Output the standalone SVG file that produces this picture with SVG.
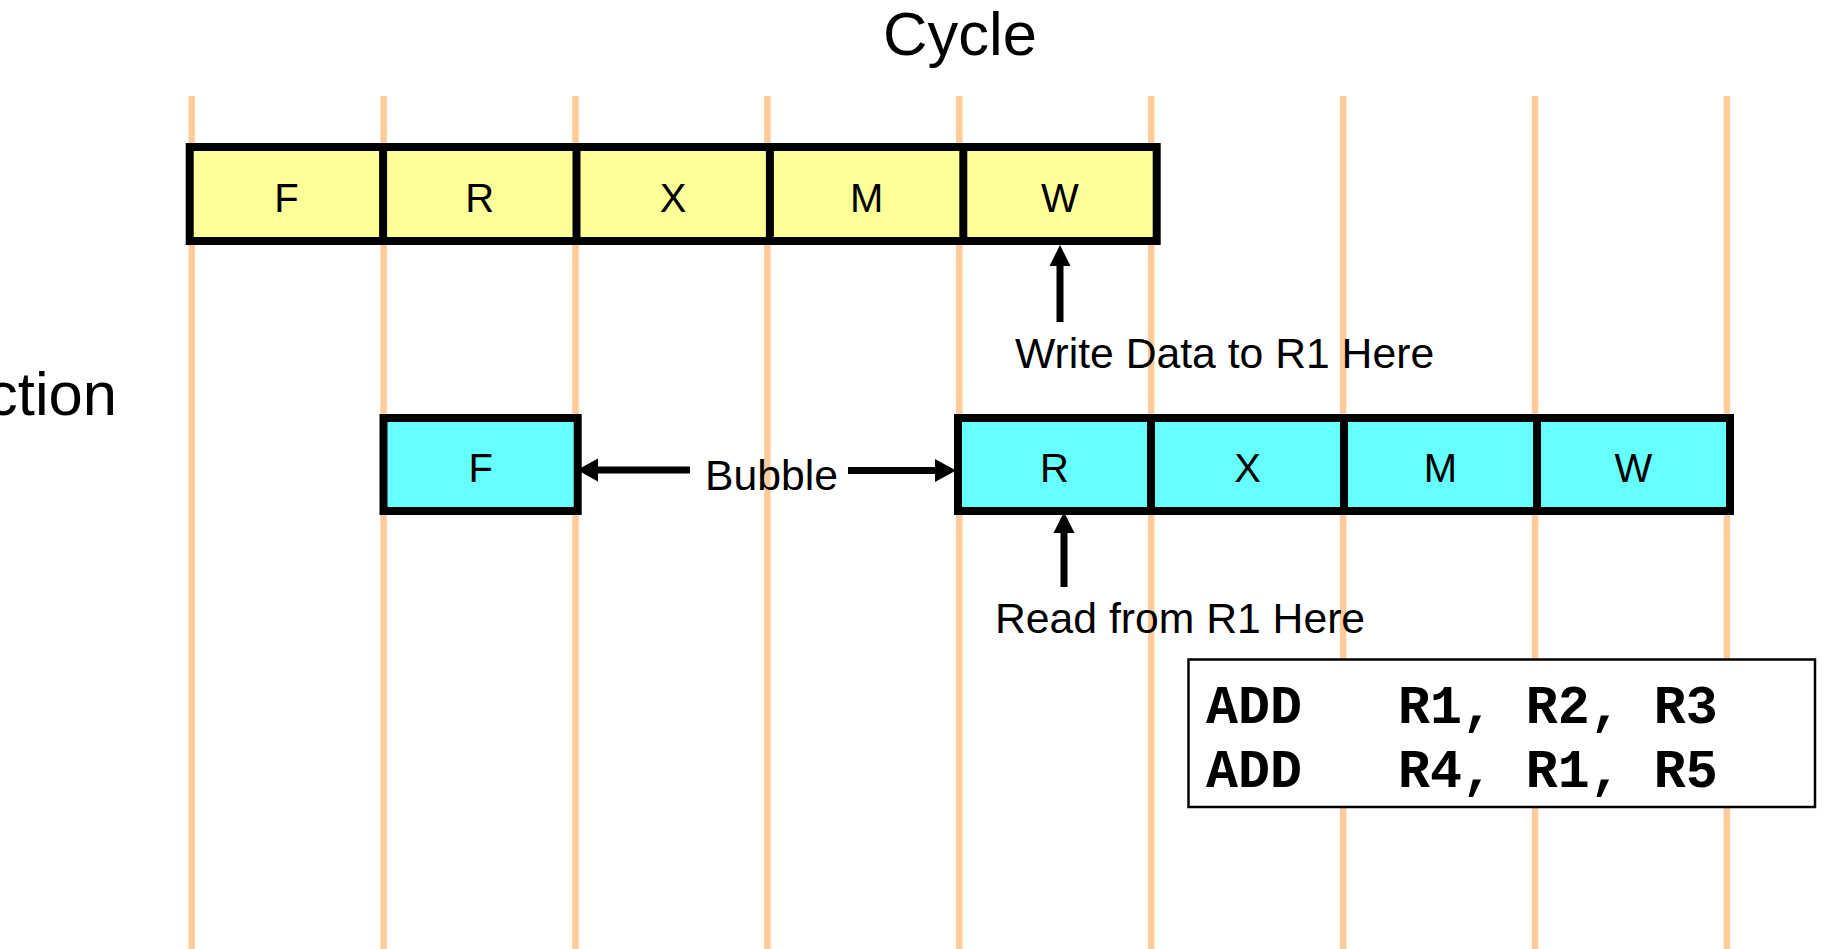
<svg xmlns="http://www.w3.org/2000/svg" width="1822" height="949" viewBox="0 0 1822 949">
<style>
.grid{stroke:#FFCC99;stroke-width:6.5}
.y{fill:#FFFF99;stroke:#000;stroke-width:8}
.c{fill:#66FFFF;stroke:#000;stroke-width:8}
.div{stroke:#000;stroke-width:8}
.lbl{font-family:"Liberation Sans",Arial,sans-serif;font-size:40px;fill:#000;text-anchor:middle}
.t{font-family:"Liberation Sans",Arial,sans-serif;font-size:42.7px;fill:#000}
.big{font-family:"Liberation Sans",Arial,sans-serif;font-size:61.5px;fill:#000}
.code{font-family:"Liberation Mono","Courier New",monospace;font-size:53.3px;font-weight:bold;fill:#000;white-space:pre}
.conn{stroke:#000;stroke-width:7;fill:none}
</style>
<rect width="1822" height="949" fill="#fff"/>
<g id="grid">
<line class="grid" x1="191.7" y1="96" x2="191.7" y2="949"/>
<line class="grid" x1="383.6" y1="96" x2="383.6" y2="949"/>
<line class="grid" x1="575.5" y1="96" x2="575.5" y2="949"/>
<line class="grid" x1="767.4" y1="96" x2="767.4" y2="949"/>
<line class="grid" x1="959.3" y1="96" x2="959.3" y2="949"/>
<line class="grid" x1="1151.2" y1="96" x2="1151.2" y2="949"/>
<line class="grid" x1="1343.1" y1="96" x2="1343.1" y2="949"/>
<line class="grid" x1="1535" y1="96" x2="1535" y2="949"/>
<line class="grid" x1="1726.9" y1="96" x2="1726.9" y2="949"/>
</g>
<text class="big" x="960" y="55" text-anchor="middle">Cycle</text>
<text class="big" x="117" y="415" text-anchor="end">ction</text>
<g id="instr1">
<rect class="y" x="189.7" y="147" width="967" height="94"/>
<line class="div" x1="383.1" y1="147" x2="383.1" y2="241"/>
<line class="div" x1="576.5" y1="147" x2="576.5" y2="241"/>
<line class="div" x1="769.9" y1="147" x2="769.9" y2="241"/>
<line class="div" x1="963.3" y1="147" x2="963.3" y2="241"/>
<text class="lbl" x="286.4" y="211.5">F</text>
<text class="lbl" x="479.8" y="211.5">R</text>
<text class="lbl" x="673.2" y="211.5">X</text>
<text class="lbl" x="866.6" y="211.5">M</text>
<text class="lbl" x="1060" y="211.5">W</text>
</g>
<g id="instr2-f">
<rect class="c" x="383.5" y="418" width="194.2" height="93"/>
<text class="lbl" x="480.6" y="481.5">F</text>
</g>
<g id="instr2">
<rect class="c" x="958" y="418" width="772" height="93"/>
<line class="div" x1="1151" y1="418" x2="1151" y2="511"/>
<line class="div" x1="1344" y1="418" x2="1344" y2="511"/>
<line class="div" x1="1537" y1="418" x2="1537" y2="511"/>
<text class="lbl" x="1054.5" y="481.5">R</text>
<text class="lbl" x="1247.5" y="481.5">X</text>
<text class="lbl" x="1440.5" y="481.5">M</text>
<text class="lbl" x="1633.5" y="481.5">W</text>
</g>
<g id="connectors">
<line class="conn" x1="1060" y1="322" x2="1060" y2="262"/>
<polygon points="1060,245 1049.5,266 1070.5,266" fill="#000"/>
<line class="conn" x1="1064" y1="587" x2="1064" y2="530"/>
<polygon points="1064,512 1053.5,533 1074.5,533" fill="#000"/>
<line class="conn" x1="690" y1="470" x2="594" y2="470"/>
<polygon points="577,470 598,458.5 598,481.5" fill="#000"/>
<line class="conn" x1="848" y1="470.5" x2="940" y2="470.5"/>
<polygon points="956,470.5 935,459 935,482" fill="#000"/>
</g>
<text class="t" x="1015" y="368">Write Data to R1 Here</text>
<text class="t" x="705" y="490">Bubble</text>
<text class="t" x="995" y="633">Read from R1 Here</text>
<g id="code">
<rect x="1188.5" y="659.5" width="626.5" height="147.5" fill="#fff" stroke="#000" stroke-width="2.5"/>
<text class="code" x="1206" y="723">ADD   R1, R2, R3</text>
<text class="code" x="1206" y="786.5">ADD   R4, R1, R5</text>
</g>
</svg>
